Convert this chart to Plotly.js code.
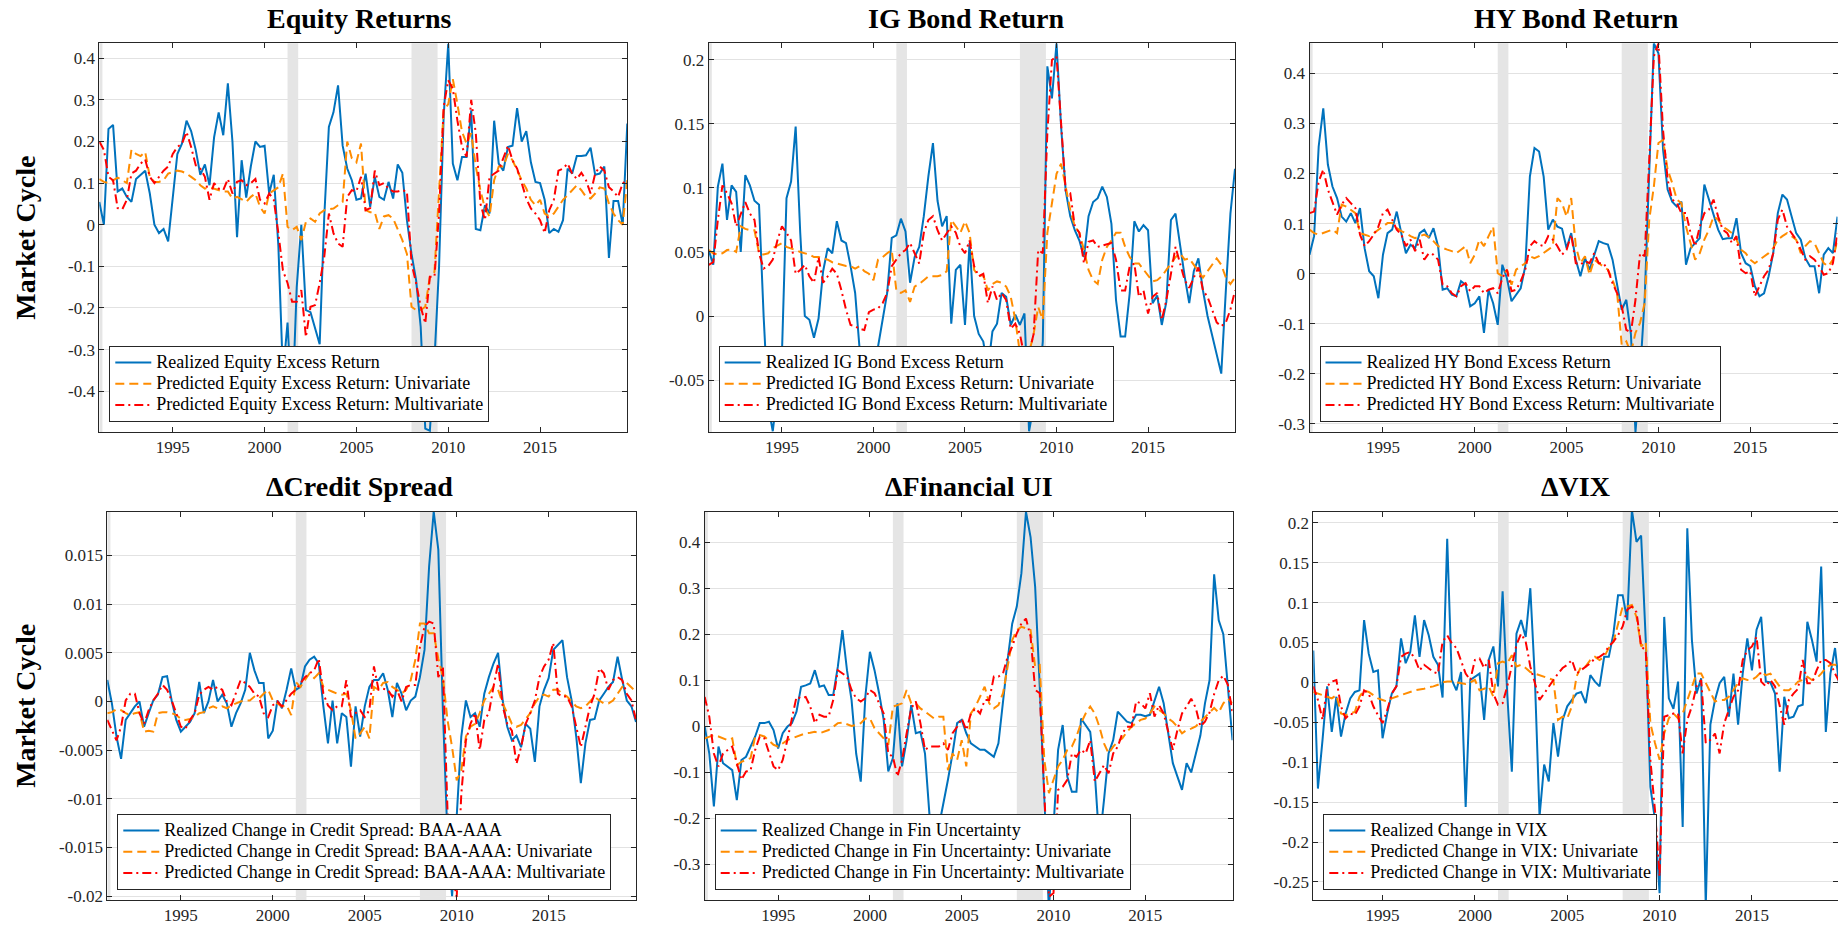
<!DOCTYPE html>
<html>
<head>
<meta charset="utf-8">
<script src="https://cdn.plot.ly/plotly-3.0.1.min.js"></script>
<style>
html,body{margin:0;padding:0;background:#fff;overflow:hidden;}
#chart{width:1838px;height:925px;}
</style>
</head>
<body>
<div id="chart"></div>
<script>
// ---------- DATA (quarterly, 1991Q1 .. 2019Q4; VIX from 1991Q2) ----------
const startYear = 1991;
const vixStartYear = 1991.25;

const panelTitles = ["Equity Returns", "IG Bond Return", "HY Bond Return",
                     "\u0394Credit Spread", "\u0394Financial UI", "\u0394VIX"];
const rowLabel = "Market Cycle";

const legendNames = [
  ["Realized Equity Excess Return", "Predicted Equity Excess Return: Univariate", "Predicted Equity Excess Return: Multivariate"],
  ["Realized IG Bond Excess Return", "Predicted IG Bond Excess Return: Univariate", "Predicted IG Bond Excess Return: Multivariate"],
  ["Realized HY Bond Excess Return", "Predicted HY Bond Excess Return: Univariate", "Predicted HY Bond Excess Return: Multivariate"],
  ["Realized Change in Credit Spread: BAA-AAA", "Predicted Change in Credit Spread: BAA-AAA: Univariate", "Predicted Change in Credit Spread: BAA-AAA: Multivariate"],
  ["Realized Change in Fin Uncertainty", "Predicted Change in Fin Uncertainty: Univariate", "Predicted Change in Fin Uncertainty: Multivariate"],
  ["Realized Change in VIX", "Predicted Change in VIX: Univariate", "Predicted Change in VIX: Multivariate"]
];

const xTickVals = [1995, 2000, 2005, 2010, 2015];
const xTickText = ["1995", "2000", "2005", "2010", "2015"];

const recStart = [1991.0, 2001.25, 2008.0];
const recEnd   = [1991.17, 2001.83, 2009.42];

// Equity
const eqReal = [0.055,0.0,0.23,0.24, 0.08,0.087,0.067,0.055, 0.11,0.12,0.13,0.075, 0.0,-0.02,-0.01,-0.04,
  0.065,0.17,0.195,0.25, 0.225,0.18,0.12,0.145, 0.095,0.21,0.27,0.215, 0.34,0.2,-0.03,0.155,
  0.065,0.14,0.2,0.187, 0.19,0.075,0.12,-0.05, -0.36,-0.235,-0.45,-0.15, 0.0,-0.205,-0.21,-0.25,
  -0.287,0.02,0.235,0.27, 0.335,0.19,0.135,0.107, 0.06,0.063,0.123,0.043, 0.115,0.067,0.06,0.103,
  0.063,0.145,0.125,0.011, -0.07,-0.133,-0.245,-0.49, -0.495,-0.325,-0.1,0.26, 0.435,0.147,0.107,0.163,
  0.163,0.275,-0.01,-0.013, 0.047,0.027,0.25,0.147, 0.13,0.187,0.19,0.28, 0.2,0.225,0.15,0.103,
  0.1,0.06,-0.02,-0.01, -0.017,0.011,0.135,0.123, 0.165,0.165,0.167,0.185, 0.12,0.123,0.14,-0.08,
  0.057,0.057,0.0,0.243];
const eqUni = [0.11,0.103,0.1,0.107, 0.113,0.107,0.1,0.18, 0.17,0.165,0.175,0.115, 0.103,0.103,0.107,0.123,
  0.127,0.13,0.128,0.123, 0.115,0.107,0.095,0.087, 0.09,0.087,0.083,0.08, 0.08,0.063,0.067,0.06,
  0.055,0.067,0.075,0.043, 0.027,0.075,0.083,0.09, 0.123,-0.005,-0.013,-0.005, -0.037,0.007,0.015,0.007,
  0.027,0.035,0.037,0.039, 0.047,0.055,0.2,0.16, 0.15,0.195,0.035,0.03, 0.03,-0.01,0.02,0.023,
  0.015,-0.013,-0.037,-0.07, -0.197,-0.205,-0.205,-0.197, -0.125,-0.113,0.09,0.275, 0.29,0.35,0.29,0.223,
  0.195,0.22,0.14,0.083, 0.039,0.02,0.107,0.14, 0.14,0.17,0.155,0.13, 0.107,0.087,0.06,0.047,
  0.06,0.027,0.02,0.027, 0.043,0.06,0.071,0.083, 0.095,0.083,0.067,0.063, 0.075,0.09,0.087,0.051,
  0.027,0.011,0.0,0.107];
const eqMul = [0.2,0.18,0.115,0.107, 0.04,0.037,0.06,0.123, 0.13,0.147,0.157,0.115, 0.1,0.115,0.13,0.14,
  0.17,0.187,0.195,0.223, 0.187,0.143,0.135,0.115, 0.06,0.1,0.087,0.083, 0.11,0.075,0.103,0.107,
  0.095,0.1,0.11,0.06, 0.051,0.075,0.06,-0.02, -0.11,-0.14,-0.185,-0.185, -0.157,-0.27,-0.197,-0.193,
  -0.14,-0.077,0.027,-0.02, -0.045,-0.053,0.067,0.083, 0.08,0.115,0.035,0.04, 0.13,0.095,0.1,0.087,
  0.08,0.08,0.083,0.08, -0.093,-0.14,-0.197,-0.237, -0.125,-0.125,0.027,0.283, 0.347,0.327,0.25,0.187,
  0.163,0.3,0.22,0.051, 0.011,0.115,0.123,0.13, 0.16,0.19,0.155,0.135, 0.1,0.063,0.039,0.027,
  0.011,-0.02,0.035,0.06, 0.13,0.135,0.147,0.123, 0.11,0.125,0.107,0.075, 0.123,0.14,0.13,0.09,
  0.08,0.067,0.1,0.107];

// IG Bond
const igReal = [0.0515,0.04,0.101,0.119, 0.075,0.102,0.097,0.05, 0.11,0.102,0.09,0.087, 0.0,-0.07,-0.09,-0.06,
  -0.03,0.092,0.105,0.148, 0.065,0.0,-0.003,-0.017, -0.002,0.035,0.053,0.049, 0.074,0.059,0.057,0.039,
  0.018,-0.027,-0.06,-0.06, -0.035,-0.024,-0.003,0.018, 0.061,0.063,0.076,0.066, 0.026,0.046,0.054,0.078,
  0.109,0.135,0.09,0.07, 0.078,-0.006,0.036,0.04, -0.007,0.057,0.0,-0.014, -0.02,-0.042,-0.012,-0.006,
  0.018,0.015,-0.007,0.001, -0.007,0.002,-0.09,-0.07, -0.06,-0.02,0.195,0.17, 0.213,0.148,0.098,0.078,
  0.067,0.059,0.046,0.078, 0.089,0.092,0.101,0.093, 0.072,0.0125,-0.016,-0.016, 0.018,0.074,0.066,0.071,
  0.067,0.01,0.016,-0.007, 0.011,0.075,0.08,0.054, 0.031,0.01,0.035,0.045, 0.02,0.0,-0.015,-0.03,
  -0.045,0.02,0.08,0.115];
const igUni = [0.0515,0.049,0.048,0.049, 0.0515,0.052,0.05,0.07, 0.068,0.067,0.067,0.049, 0.048,0.049,0.053,0.055,
  0.057,0.054,0.053,0.0515, 0.05,0.049,0.048,0.046, 0.046,0.045,0.044,0.042, 0.041,0.04,0.039,0.039,
  0.037,0.039,0.035,0.033, 0.028,0.044,0.046,0.049, 0.0515,0.02,0.018,0.02, 0.011,0.023,0.025,0.028,
  0.031,0.031,0.031,0.032, 0.035,0.075,0.07,0.065, 0.074,0.065,0.036,0.031, 0.032,0.02,0.025,0.027,
  0.026,0.023,0.015,-0.003, -0.029,-0.037,-0.029,-0.014, 0.007,-0.003,0.065,0.09, 0.111,0.119,0.101,0.083,
  0.07,0.065,0.0515,0.036, 0.028,0.025,0.044,0.054, 0.059,0.065,0.065,0.054, 0.046,0.041,0.041,0.036,
  0.031,0.027,0.028,0.031, 0.036,0.041,0.046,0.049, 0.044,0.045,0.04,0.035, 0.03,0.035,0.04,0.045,
  0.04,0.03,0.025,0.03];
const igMul = [0.04,0.042,0.075,0.102, 0.096,0.088,0.07,0.08, 0.089,0.08,0.075,0.049, 0.037,0.039,0.044,0.059,
  0.07,0.065,0.059,0.033, 0.036,0.04,0.031,0.026, 0.046,0.026,0.031,0.037, 0.033,0.02,0.005,-0.007,
  -0.008,-0.01,-0.011,0.003, 0.005,0.006,0.01,0.018, 0.039,0.044,0.049,0.0515, 0.057,0.049,0.041,0.065,
  0.075,0.078,0.067,0.059, 0.065,0.07,0.065,0.054, 0.049,0.059,0.039,0.031, 0.033,0.01,0.023,0.0125,
  0.018,0.0125,-0.01,-0.006, -0.014,-0.032,-0.029,-0.014, 0.0515,0.049,0.143,0.2, 0.203,0.153,0.098,0.096,
  0.07,0.065,0.041,0.058, 0.059,0.054,0.055,0.056, 0.057,0.044,0.02,0.02, 0.039,0.041,0.015,0.02,
  0.002,0.015,0.018,-0.003, 0.0125,0.033,0.054,0.041, 0.028,0.022,0.03,0.038, 0.02,0.015,0.005,-0.005,
  -0.008,-0.005,0.005,0.02];

// HY Bond
const hyReal = [0.038,0.075,0.254,0.33, 0.218,0.174,0.151,0.114, 0.104,0.121,0.101,0.131, 0.051,0.005,-0.005,-0.049,
  0.038,0.081,0.088,0.124, 0.081,0.041,0.058,0.051, 0.081,0.088,0.071,0.091, 0.055,-0.032,-0.029,-0.042,
  -0.045,-0.015,-0.022,-0.065, -0.059,-0.045,-0.118,-0.032, -0.059,-0.102,0.018,-0.009, -0.055,-0.042,-0.029,0.015,
  0.194,0.251,0.244,0.194, 0.088,0.108,0.094,0.09, 0.051,0.081,0.028,-0.005, 0.031,0.008,0.035,0.065,
  0.061,0.058,0.028,-0.019, -0.072,-0.052,-0.12,-0.316, -0.2,-0.05,0.2,0.46, 0.44,0.248,0.168,0.144,
  0.134,0.144,0.018,0.051, 0.061,0.071,0.178,0.148, 0.121,0.088,0.069,0.071, 0.071,0.111,0.041,0.021,
  0.015,-0.025,-0.045,-0.039, -0.005,0.041,0.121,0.158, 0.148,0.114,0.081,0.068, 0.031,0.015,0.015,-0.039,
  0.038,0.051,0.041,0.114];
const hyUni = [0.088,0.081,0.078,0.081, 0.085,0.088,0.081,0.138, 0.134,0.128,0.121,0.081, 0.078,0.075,0.081,0.088,
  0.094,0.101,0.101,0.091, 0.085,0.081,0.075,0.071, 0.075,0.078,0.073,0.065, 0.055,0.051,0.048,0.045,
  0.041,0.048,0.055,0.021, 0.038,0.068,0.055,0.075, 0.094,0.001,-0.005,0.008, -0.022,0.008,0.015,0.021,
  0.035,0.031,0.035,0.041, 0.048,0.055,0.151,0.141, 0.114,0.151,0.055,0.021, 0.035,-0.002,0.028,0.021,
  0.015,0.008,-0.012,-0.039, -0.142,-0.135,-0.158,-0.118, -0.098,-0.059,0.108,0.174, 0.261,0.267,0.208,0.181,
  0.148,0.141,0.094,0.061, 0.028,0.041,0.068,0.088, 0.114,0.108,0.094,0.088, 0.081,0.068,0.048,0.041,
  0.028,0.021,0.028,0.035, 0.041,0.051,0.068,0.075, 0.081,0.075,0.068,0.041, 0.055,0.065,0.061,0.041,
  0.021,0.015,0.028,0.068];
const hyMul = [0.121,0.124,0.184,0.208, 0.168,0.141,0.118,0.138, 0.151,0.141,0.131,0.078, 0.055,0.065,0.078,0.094,
  0.121,0.128,0.108,0.088, 0.078,0.055,0.068,0.045, 0.068,0.028,0.041,0.038, 0.028,-0.022,-0.025,-0.039,
  -0.045,-0.025,-0.019,-0.035, -0.025,-0.025,-0.039,-0.032, -0.029,-0.039,-0.009,0.008, -0.035,-0.032,-0.015,0.008,
  0.055,0.065,0.058,0.055, 0.075,0.068,0.055,0.038, 0.048,0.078,0.021,0.018, 0.025,0.021,0.041,0.021,
  0.021,0.008,-0.019,-0.039, -0.065,-0.112,-0.118,-0.052, 0.041,0.035,0.228,0.434, 0.46,0.287,0.188,0.148,
  0.141,0.121,0.121,0.081, 0.055,0.094,0.121,0.128, 0.148,0.114,0.088,0.081, 0.061,0.075,0.008,0.001,
  0.005,-0.045,-0.025,-0.005, 0.008,0.041,0.108,0.128, 0.094,0.081,0.068,0.048, 0.028,0.035,0.028,0.015,
  -0.002,0.001,0.021,0.081];

// Credit spread
const csReal = [0.0022,-0.0002,-0.0036,-0.0059, -0.0019,-0.0012,-0.0005,0.0, -0.0026,-0.0012,0.0001,0.0007, 0.0025,0.0026,0.0001,-0.0019,
  -0.0031,-0.0026,-0.0021,-0.0012, 0.002,-0.0012,0.0,0.0022, 0.0,0.0007,-0.0002,-0.0026, -0.0012,-0.0002,0.0012,0.005,
  0.0032,0.0019,0.0019,-0.0038, -0.003,0.0001,-0.0007,0.0012, 0.0034,0.0012,0.0015,0.0036, 0.0043,0.0046,0.0039,-0.0005,
  -0.0043,0.0001,-0.0043,-0.0012, -0.0016,-0.0067,-0.0005,-0.0036, -0.0005,0.0015,0.0022,0.0022, 0.0029,0.0012,-0.0016,0.0019,
  0.0008,-0.0009,0.0001,0.0005, 0.0025,0.0053,0.0139,0.0195, 0.0156,-0.001,-0.014,-0.02, -0.012,-0.0036,0.0001,-0.0016,
  -0.0012,-0.0026,0.0008,0.0025, 0.0039,0.005,0.0001,-0.0026, -0.004,-0.0035,-0.0047,-0.0023, -0.0028,-0.0062,-0.0005,0.0012,
  0.0024,0.0053,0.0058,0.0063, 0.0025,0.0001,-0.0036,-0.0084, -0.0043,-0.0019,-0.0018,0.0001, 0.0008,0.0015,0.002,0.0046,
  0.0022,0.0001,-0.0005,-0.0021];
const csUni = [-0.0012,-0.0011,-0.0008,-0.0009, -0.0012,-0.0014,-0.0012,-0.0011, -0.0031,-0.003,-0.0031,-0.0012, -0.0011,-0.0011,-0.0012,-0.0014,
  -0.0018,-0.0019,-0.0018,-0.0016, -0.0012,-0.0011,-0.0007,-0.0005, -0.0007,-0.0005,-0.0007,-0.0004, -0.0002,0.0,0.0001,0.0001,
  0.0005,0.0003,0.0008,0.0012, 0.0001,-0.0002,-0.0005,-0.0004, -0.0014,0.002,0.0015,0.0022, 0.0029,0.0024,0.0029,0.0015,
  0.0012,0.001,0.0008,0.0007, 0.0008,-0.0009,-0.0038,-0.0033, -0.0026,-0.0038,0.0015,0.0012, 0.0019,0.002,0.0015,0.0012,
  0.0008,0.0012,0.0022,0.0043, 0.008,0.008,0.007,0.007, 0.0044,0.0025,-0.0019,-0.0047, -0.0081,-0.0071,-0.0036,-0.0026,
  -0.0023,-0.0012,0.0001,0.0008, 0.0015,0.0012,-0.0002,-0.0012, -0.0023,-0.0026,-0.0024,-0.0018, -0.0012,-0.0002,0.0005,0.0007,
  0.0005,0.0012,0.0012,0.0008, 0.0005,0.0,-0.0005,-0.0007, -0.0005,0.0,0.0005,0.0001, -0.0002,-0.0002,0.0001,0.0008,
  0.0015,0.0019,0.0015,0.001];
const csMul = [-0.0019,-0.003,-0.004,-0.0026, 0.0001,0.0008,0.0008,-0.0012, -0.0023,-0.0009,0.0001,0.0008, 0.0017,0.0012,0.0001,-0.0012,
  -0.0026,-0.0028,-0.0019,-0.0012, 0.0007,0.0012,0.0015,0.0012, 0.0015,0.0012,0.0,-0.0004, 0.0008,0.0022,0.0019,0.0015,
  0.0008,0.0005,-0.0012,-0.0016, -0.0004,0.0,-0.0005,0.0001, 0.0008,0.0012,0.0019,0.0025, 0.0029,0.0032,0.0044,0.0008,
  -0.0004,-0.0009,-0.0005,-0.0005, 0.0022,-0.0016,-0.0012,-0.0009, -0.0016,-0.0009,0.0036,0.0012, 0.0013,0.0012,0.0005,0.0012,
  0.0,0.0015,0.0017,0.0017, 0.0056,0.0077,0.0082,0.008, 0.0025,0.0036,-0.0112,-0.0177, -0.0201,-0.0095,-0.004,-0.0023,
  -0.0012,-0.005,-0.0019,-0.0012, 0.0015,0.0039,-0.0005,-0.0023, -0.003,-0.0064,-0.0047,-0.0023, -0.0012,0.0001,0.0025,0.0036,
  0.0043,0.006,0.0008,0.0005, 0.0005,-0.0005,-0.0026,-0.0047, -0.0026,-0.0005,0.0008,0.0034, 0.0029,0.0012,0.0022,0.0025,
  0.0022,0.0008,0.0001,-0.0019];

// Financial uncertainty
const fuReal = [0.0,-0.059,-0.174,-0.044, -0.08,-0.087,-0.095,-0.16, -0.073,-0.066,-0.044,-0.022, 0.007,0.007,0.01,-0.008,
  -0.048,-0.015,-0.001,0.007, 0.032,0.086,0.089,0.093, 0.122,0.086,0.089,0.068, 0.068,0.129,0.209,0.122,
  0.057,-0.059,-0.12,0.064, 0.162,0.122,0.072,0.014, -0.098,-0.069,0.05,-0.087, -0.03,0.046,-0.015,-0.012,
  -0.059,-0.196,-0.27,-0.22, -0.163,-0.116,-0.059,0.007, 0.014,-0.015,-0.037,-0.044, -0.051,-0.051,-0.059,-0.066,
  -0.037,0.057,0.144,0.223, 0.26,0.332,0.466,0.411, 0.303,0.086,-0.145,-0.4, -0.218,-0.051,0.003,-0.109,
  -0.142,-0.142,0.017,0.003, -0.012,-0.102,-0.254,-0.16, -0.059,-0.03,0.032,0.021, 0.01,0.007,0.025,0.025,
  0.022,0.025,0.057,0.086, 0.05,-0.012,-0.08,-0.109, -0.138,-0.08,-0.1,-0.06, -0.02,0.05,0.1,0.33,
  0.23,0.2,0.08,-0.03];
const fuUni = [-0.026,-0.022,-0.019,-0.022, -0.026,-0.03,-0.026,-0.084, -0.077,-0.073,-0.069,-0.022, -0.019,-0.022,-0.03,-0.04,
  -0.044,-0.037,-0.03,-0.026, -0.022,-0.019,-0.015,-0.014, -0.012,-0.015,-0.012,-0.008, -0.001,0.007,0.008,0.004,
  0.001,0.003,0.007,0.017, 0.017,-0.004,-0.015,-0.026, -0.04,0.043,0.046,0.05, 0.079,0.05,0.05,0.039,
  0.032,0.025,0.017,0.021, 0.021,-0.095,-0.059,-0.073, -0.03,-0.087,0.028,0.043, 0.064,0.086,0.05,0.039,
  0.046,0.072,0.129,0.187, 0.209,0.216,0.213,0.209, 0.129,0.133,-0.073,-0.145, -0.116,-0.087,-0.073,-0.051,
  -0.044,-0.022,0.007,0.028, 0.043,0.028,-0.001,-0.037, -0.059,-0.044,-0.033,-0.026, -0.012,-0.001,0.007,0.014,
  0.017,0.028,0.043,0.035, 0.028,0.017,0.01,-0.001, -0.015,-0.008,-0.005,0.0, 0.01,0.02,0.03,0.04,
  0.03,0.05,0.06,0.05];
const fuMul = [0.064,0.021,-0.059,-0.087, -0.059,-0.051,-0.044,-0.08, -0.116,-0.098,-0.095,-0.051, -0.022,-0.026,-0.059,-0.087,
  -0.095,-0.073,-0.03,0.014, 0.064,0.061,0.064,0.043, 0.007,0.025,0.021,0.021, 0.057,0.122,0.115,0.108,
  0.079,0.061,0.054,0.061, 0.079,0.072,0.05,0.028, -0.059,-0.066,-0.109,-0.073, -0.015,0.039,0.054,0.007,
  -0.051,-0.044,-0.044,-0.044, -0.037,-0.051,-0.015,-0.001, 0.017,-0.008,0.028,0.039, 0.028,0.057,0.057,0.108,
  0.108,0.115,0.151,0.173, 0.202,0.223,0.234,0.195, 0.079,0.072,-0.145,-0.37, -0.362,-0.138,-0.131,-0.116,
  -0.059,-0.066,-0.051,-0.059, -0.03,-0.12,-0.102,-0.084, -0.102,-0.059,-0.044,-0.015, -0.001,-0.001,0.054,0.05,
  0.039,0.072,0.021,0.046, 0.028,-0.015,-0.051,-0.008, 0.028,0.043,0.06,0.04, 0.0,0.01,0.03,0.07,
  0.1,0.11,0.09,0.03];

// VIX (starts 1991Q2)
const vxReal = [0.04,-0.133,-0.072, -0.005,-0.062,-0.018,-0.068, -0.039,-0.02,-0.012,-0.01, 0.078,0.036,0.013,0.015,
  -0.07,-0.039,-0.014,-0.005, 0.055,0.024,0.038,0.084, 0.032,0.078,0.059,0.032, 0.022,-0.019,0.18,0.003,
  -0.01,0.013,-0.156,0.003, 0.007,0.011,-0.047,0.028, 0.045,-0.005,0.114,-0.014, -0.112,0.061,0.078,0.057,
  0.118,0.003,-0.168,-0.103, -0.124,-0.051,-0.093,-0.047, -0.03,-0.022,-0.014,-0.012, -0.026,0.009,0.001,-0.005,
  0.032,0.032,0.061,0.109, 0.109,0.078,0.216,0.176, 0.184,0.053,-0.131,-0.172, -0.264,0.082,-0.02,-0.033,
  0.001,-0.181,0.193,0.053, -0.014,0.005,-0.28,-0.053, -0.022,-0.001,0.007,-0.043, 0.011,-0.053,0.011,0.055,
  0.015,0.066,0.082,0.001, 0.0,-0.014,-0.112,-0.018, -0.045,-0.043,-0.03,-0.028, 0.076,0.053,0.026,0.145,
  -0.062,0.011,0.043,-0.01];
const vxUni = [-0.012,-0.014,-0.016, -0.018,-0.02,-0.016,-0.039, -0.041,-0.039,-0.037,-0.018, -0.01,-0.012,-0.016,-0.02,
  -0.022,-0.024,-0.02,-0.018, -0.016,-0.014,-0.012,-0.01, -0.009,-0.008,-0.006,-0.005, -0.003,0.0,0.001,0.001,
  0.0,-0.001,-0.002,0.0, 0.003,-0.01,-0.008,-0.005, -0.018,0.024,0.026,0.024, 0.034,0.02,0.022,0.018,
  0.013,0.011,0.009,0.007, 0.005,0.003,-0.047,-0.043, -0.045,-0.03,0.007,0.02, 0.02,0.028,0.032,0.028,
  0.032,0.043,0.051,0.074, 0.095,0.095,0.097,0.082, 0.045,0.051,-0.051,-0.076, -0.097,-0.064,-0.045,-0.039,
  -0.045,-0.039,-0.022,-0.005, 0.011,0.011,-0.001,-0.014, -0.024,-0.022,-0.022,-0.018, -0.01,-0.001,0.005,0.003,
  0.003,0.007,0.013,0.009, 0.011,0.003,-0.005,-0.01, -0.01,-0.005,0.001,0.003, 0.007,0.003,0.005,0.011,
  0.018,0.022,0.022,0.02];
const vxMul = [-0.005,-0.022,-0.047, -0.005,0.001,0.003,-0.03, -0.045,-0.039,-0.041,-0.03, -0.01,-0.014,-0.03,-0.041,
  -0.051,-0.035,-0.014,-0.005, 0.032,0.036,0.038,0.03, 0.015,0.022,0.018,0.013, 0.011,0.051,0.059,0.049,
  0.043,0.028,0.011,0.003, 0.028,0.03,0.018,0.028, -0.014,-0.028,-0.026,-0.005, 0.02,0.047,0.061,0.051,
  0.02,-0.001,-0.022,-0.014, -0.005,0.003,0.011,0.018, 0.022,0.028,0.011,0.015, 0.02,0.024,0.03,0.032,
  0.036,0.045,0.051,0.059, 0.07,0.091,0.095,0.088, 0.045,0.04,-0.097,-0.16, -0.243,-0.043,-0.041,-0.039,
  -0.039,-0.089,-0.047,-0.03, -0.005,0.003,-0.076,-0.072, -0.064,-0.089,-0.051,-0.035, -0.018,-0.01,0.028,0.04,
  0.045,0.057,0.001,-0.005, 0.003,-0.005,-0.03,-0.053, -0.022,-0.014,-0.008,0.028, -0.001,-0.001,0.015,0.028,
  0.028,0.024,0.011,0.0];

// y tick labels per panel
const yTickVals = [
  [-0.4,-0.3,-0.2,-0.1,0,0.1,0.2,0.3,0.4],
  [-0.05,0,0.05,0.1,0.15,0.2],
  [-0.3,-0.2,-0.1,0,0.1,0.2,0.3,0.4],
  [-0.02,-0.015,-0.01,-0.005,0,0.005,0.01,0.015],
  [-0.3,-0.2,-0.1,0,0.1,0.2,0.3,0.4],
  [-0.25,-0.2,-0.15,-0.1,-0.05,0,0.05,0.1,0.15,0.2]
];
const yTickText = [
  ["-0.4","-0.3","-0.2","-0.1","0","0.1","0.2","0.3","0.4"],
  ["-0.05","0","0.05","0.1","0.15","0.2"],
  ["-0.3","-0.2","-0.1","0","0.1","0.2","0.3","0.4"],
  ["-0.02","-0.015","-0.01","-0.005","0","0.005","0.01","0.015"],
  ["-0.3","-0.2","-0.1","0","0.1","0.2","0.3","0.4"],
  ["-0.25","-0.2","-0.15","-0.1","-0.05","0","0.05","0.1","0.15","0.2"]
];

// ---------- BUILD ----------
const W = 1838, H = 925;
function quarters(start, n){ const a=[]; for(let i=0;i<n;i++) a.push(start + i/4); return a; }

const series = [
  [eqReal, eqUni, eqMul],
  [igReal, igUni, igMul],
  [hyReal, hyUni, hyMul],
  [csReal, csUni, csMul],
  [fuReal, fuUni, fuMul],
  [vxReal, vxUni, vxMul]
];
const starts = [startYear, startYear, startYear, startYear, startYear, vixStartYear];

// layout geometry in pixels
const xPx = [[99.3,627.3],[708.7,1235],[1309.5,1837.5],[107.3,636],[704.7,1232.5],[1313.3,1838]];
const yPxTop = [43.3, 432], yPxBot = [511.7, 900];
const xRanges = [[1991,2019.75],[1991,2019.75],[1991,2019.75],[1991,2019.75],[1991,2019.75],[1991.25,2019.66]];
const yRanges = [[-0.498,0.436],[-0.0906,0.213],[-0.316,0.46],[-0.0204,0.0195],[-0.377,0.466],[-0.2726,0.2138]];
const titleShift = [-4, -6, 3, -12, 0, 0];

const colors = ['#0072BD', '#FF8C00', '#FF0000'];
const dashes = ['solid', '9px,5px', '9px,4px,2px,4px'];
const FONT = '"Liberation Serif", serif';
const AX = '#262626';

const traces = [];
const layout = {
  width: W, height: H,
  margin: {l:0, r:0, t:0, b:0},
  paper_bgcolor: '#ffffff', plot_bgcolor: '#ffffff',
  font: {family: FONT, color: AX, size: 17},
  showlegend: true,
  annotations: []
};

for (let p = 0; p < 6; p++) {
  const sfx = p === 0 ? '' : String(p + 1);
  const xa = 'x' + sfx, ya = 'y' + sfx;
  const legName = 'legend' + sfx;
  const xs = quarters(starts[p], series[p][0].length);
  // recession bands (filled areas spanning the y range)
  for (let r = 0; r < recStart.length; r++) {
    const a = Math.max(recStart[r], xRanges[p][0]);
    if (a >= recEnd[r]) continue;
    const lo = yRanges[p][0] - 1, hi = yRanges[p][1] + 1;
    traces.push({
      type: 'scatter', mode: 'lines', x: [a, recEnd[r], recEnd[r], a, a],
      y: [lo, lo, hi, hi, lo], fill: 'toself', fillcolor: '#e5e5e5',
      line: {width: 0, color: 'rgba(0,0,0,0)'}, xaxis: xa, yaxis: ya,
      showlegend: false, hoverinfo: 'skip', legend: legName
    });
  }
  for (let s = 0; s < 3; s++) {
    traces.push({
      type: 'scatter', mode: 'lines', x: xs, y: series[p][s],
      xaxis: xa, yaxis: ya, legend: legName,
      name: '<span style="font-size:18px">' + legendNames[p][s] + '</span>',
      line: {color: colors[s], width: 2, dash: dashes[s]},
      hoverinfo: 'skip'
    });
  }
  const top = p < 3;
  const yp = top ? yPxTop : yPxBot;
  const xd = [xPx[p][0]/W, Math.min(1, xPx[p][1]/W)];
  const yd = [1 - yp[1]/H, 1 - yp[0]/H];
  layout['xaxis' + sfx] = {
    domain: xd, range: xRanges[p], anchor: ya,
    tickvals: xTickVals, ticktext: xTickText,
    ticks: 'inside', ticklen: 5, tickcolor: AX, tickwidth: 1,
    showline: true, linecolor: AX, linewidth: 1, mirror: 'ticks',
    showgrid: false, zeroline: false,
    tickfont: {family: FONT, size: 17, color: AX}, fixedrange: true
  };
  layout['yaxis' + sfx] = {
    domain: yd, range: yRanges[p], anchor: xa,
    tickvals: yTickVals[p], ticktext: yTickText[p],
    ticks: 'inside', ticklen: 5, tickcolor: AX, tickwidth: 1,
    showline: true, linecolor: AX, linewidth: 1, mirror: 'ticks',
    showgrid: true, gridcolor: '#e2e2e2', gridwidth: 1, zeroline: false,
    tickfont: {family: FONT, size: 17, color: AX}, fixedrange: true
  };
  // legend
  layout[legName] = {
    x: (xPx[p][0] + 10)/W, y: 1 - (yp[1] - 10)/H,
    xanchor: 'left', yanchor: 'bottom',
    bgcolor: '#ffffff', bordercolor: AX, borderwidth: 1,
    font: {family: FONT, size: 14, color: '#000000'},
    itemwidth: 36, tracegroupgap: 0, traceorder: 'normal'
  };
  // title
  layout.annotations.push({
    text: '<b>' + panelTitles[p] + '</b>', xref: 'paper', yref: 'paper',
    x: ((xPx[p][0] + xPx[p][1]) / 2 + titleShift[p]) / W, y: 1 - (top ? 36 : 504) / H,
    xanchor: 'center', yanchor: 'bottom', showarrow: false,
    font: {family: FONT, size: 28, color: '#000000'}
  });
}
// row labels
[[yPxTop[0]+yPxTop[1]], [yPxBot[0]+yPxBot[1]]].forEach(function(v){
  layout.annotations.push({
    text: '<b>' + rowLabel + '</b>', xref: 'paper', yref: 'paper',
    x: 26/W, y: 1 - (v[0]/2)/H, xanchor: 'center', yanchor: 'middle',
    textangle: -90, showarrow: false,
    font: {family: FONT, size: 28, color: '#000000'}
  });
});

Plotly.newPlot('chart', traces, layout, {displayModeBar: false, staticPlot: true});
</script>
</body>
</html>
